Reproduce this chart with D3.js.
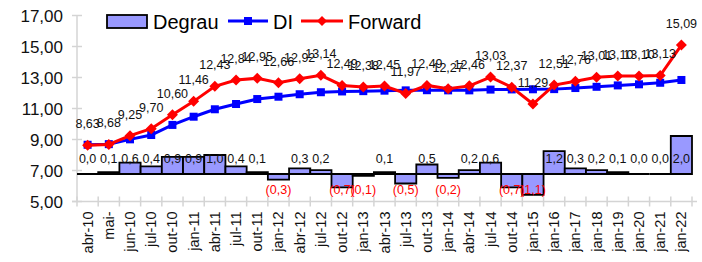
<!DOCTYPE html>
<html>
<head>
<meta charset="utf-8">
<script src="https://cdn.jsdelivr.net/npm/d3@7/dist/d3.min.js"></script>
<style>
  body { margin: 0; background: #fff; }
  text { font-family: "Liberation Sans", Arial, sans-serif; }
</style>
</head>
<body>
<svg id="chart" width="702" height="262"></svg>
<script>
// categories along the x axis
const categories = ["abr-10", "mai-", "jun-10", "jul-10", "out-10", "jan-11", "abr-11", "jul-11",
  "out-11", "jan-12", "abr-12", "jul-12", "out-12", "jan-13", "abr-13", "jul-13", "out-13",
  "jan-14", "abr-14", "jul-14", "out-14", "jan-15", "jan-16", "jan-17", "jan-18", "jan-19",
  "jan-20", "jan-21", "jan-22"];

// Forward curve (labelled)
const forward = [8.63, 8.68, 9.25, 9.70, 10.60, 11.46, 12.43, 12.84, 12.95, 12.66, 12.92, 13.14,
  12.49, 12.38, 12.45, 11.97, 12.49, 12.27, 12.46, 13.03, 12.37, 11.29, 12.51, 12.76, 13.01,
  13.10, 13.10, 13.13, 15.09];

// DI curve
const di = [8.66, 8.70, 9.01, 9.29, 9.94, 10.47, 10.95, 11.29, 11.61, 11.76, 11.92, 12.05,
  12.10, 12.12, 12.15, 12.17, 12.18, 12.17, 12.17, 12.22, 12.23, 12.24, 12.25, 12.32, 12.40,
  12.49, 12.56, 12.66, 12.84];

// Degrau bars (secondary scale)
const degrau = [0.0, 0.1, 0.6, 0.4, 0.9, 0.9, 1.0, 0.4, 0.1, -0.3, 0.3, 0.2, -0.7, -0.1, 0.1,
  -0.5, 0.5, -0.2, 0.2, 0.6, -0.7, -1.1, 1.2, 0.3, 0.2, 0.1, 0.0, 0.0, 2.0];

const yTicks = [5, 7, 9, 11, 13, 15, 17];

const svg = d3.select("#chart");
const margin = { top: 15.5, right: 10, bottom: 60.5, left: 77 };
const width = 692 - margin.left;
const height = 262 - margin.top - margin.bottom;

const g = svg.append("g").attr("transform", `translate(${ margin.left }, ${ margin.top })`);

const fmt = v => v.toFixed(2).replace(".", ",");
const fmt1 = v => Math.abs(v).toFixed(1).replace(".", ",");

const x = d3.scaleBand().domain(categories).range([0, width]).padding(0);
const y = d3.scaleLinear().domain([5, 17]).range([height, 0]);
// secondary axis for the bars, baseline sits near 6,68 on the main axis
const y2 = d3.scaleLinear().domain([-1.447, 8.34]).range([height, 0]);

const cx = d => x(d) + x.bandwidth() / 2;

// y axis
g.append("line")
  .attr("x1", 0).attr("x2", 0).attr("y1", 0).attr("y2", height)
  .attr("stroke", "#d4d4d4").attr("stroke-width", 1.5);
g.selectAll(".ytick").data(yTicks).join("line")
  .attr("x1", -5).attr("x2", 5)
  .attr("y1", d => y(d)).attr("y2", d => y(d))
  .attr("stroke", "#d4d4d4").attr("stroke-width", 1.5);
g.selectAll(".ylab").data(yTicks).join("text")
  .attr("x", -14).attr("y", d => y(d) + 6)
  .attr("text-anchor", "end")
  .style("font-size", "17px")
  .attr("fill", "#111")
  .text(d => fmt(d));

// x axis
g.append("line")
  .attr("x1", -5).attr("x2", width + 5).attr("y1", height).attr("y2", height)
  .attr("stroke", "#d4d4d4").attr("stroke-width", 1.5);
g.selectAll(".xtick").data(categories.concat(["__end"])).join("line")
  .attr("x1", (d, i) => i * x.bandwidth()).attr("x2", (d, i) => i * x.bandwidth())
  .attr("y1", height - 5).attr("y2", height + 5)
  .attr("stroke", "#d4d4d4").attr("stroke-width", 1.5);
g.selectAll(".xlab").data(categories).join("text")
  .attr("transform", d => `translate(${ cx(d) + 5 }, ${ height + 10 }) rotate(-90)`)
  .attr("text-anchor", "end")
  .style("font-size", "14.5px")
  .attr("fill", "#111")
  .text(d => d);

// bars drawn as paths so zero-height bars still show their outline
g.selectAll(".bar").data(degrau).join("path")
  .attr("d", (d, i) => {
    const x0 = x(categories[i]), x1 = x0 + x.bandwidth();
    const ya = y2(0), yb = y2(d);
    return `M${ x0 },${ ya }L${ x0 },${ yb }L${ x1 },${ yb }L${ x1 },${ ya }Z`;
  })
  .attr("fill", "#9999ff")
  .attr("stroke", "#000")
  .attr("stroke-width", 1.8);

g.selectAll(".barlab").data(degrau).join("text")
  .attr("x", (d, i) => cx(categories[i]))
  .attr("y", d => d < 0 ? y2(0) + 20 : y2(0) - 11)
  .attr("text-anchor", "middle")
  .style("font-size", "12.5px")
  .attr("fill", d => d < 0 ? "#ff0000" : "#111")
  .text(d => d < 0 ? `(${ fmt1(d) })` : fmt1(d));

// DI line
const line = d3.line().x((d, i) => cx(categories[i])).y(d => y(d));
g.append("path").datum(di)
  .attr("d", line)
  .attr("fill", "none")
  .attr("stroke", "#0000ff")
  .attr("stroke-width", 3);
g.selectAll(".dimark").data(di).join("rect")
  .attr("x", (d, i) => cx(categories[i]) - 4)
  .attr("y", d => y(d) - 4)
  .attr("width", 8).attr("height", 8)
  .attr("fill", "#0000ff");

// Forward line
g.append("path").datum(forward)
  .attr("d", line)
  .attr("fill", "none")
  .attr("stroke", "#ff0000")
  .attr("stroke-width", 3);
g.selectAll(".fwmark").data(forward).join("path")
  .attr("transform", (d, i) => `translate(${ cx(categories[i]) }, ${ y(d) })`)
  .attr("d", "M0,-5.5L5.5,0L0,5.5L-5.5,0Z")
  .attr("fill", "#ff0000");
g.selectAll(".fwlab").data(forward).join("text")
  .attr("x", (d, i) => cx(categories[i]))
  .attr("y", d => y(d) - 17)
  .attr("text-anchor", "middle")
  .style("font-size", "12.5px")
  .attr("fill", "#111")
  .text(d => fmt(d));

// legend
const legend = svg.append("g");
legend.append("rect")
  .attr("x", 107).attr("y", 15).attr("width", 40).attr("height", 13)
  .attr("fill", "#9999ff").attr("stroke", "#000").attr("stroke-width", 1.8);
legend.append("text").attr("x", 153).attr("y", 29).style("font-size", "20px").text("Degrau");
legend.append("line").attr("x1", 228).attr("x2", 268).attr("y1", 21).attr("y2", 21)
  .attr("stroke", "#0000ff").attr("stroke-width", 3);
legend.append("rect").attr("x", 244).attr("y", 17).attr("width", 8).attr("height", 8).attr("fill", "#0000ff");
legend.append("text").attr("x", 273).attr("y", 29).style("font-size", "20px").text("DI");
legend.append("line").attr("x1", 301).attr("x2", 343).attr("y1", 21).attr("y2", 21)
  .attr("stroke", "#ff0000").attr("stroke-width", 3);
legend.append("path").attr("transform", "translate(322,21)")
  .attr("d", "M0,-5L5,0L0,5L-5,0Z").attr("fill", "#ff0000");
legend.append("text").attr("x", 348).attr("y", 29).style("font-size", "20px").text("Forward");
</script>
</body>
</html>
